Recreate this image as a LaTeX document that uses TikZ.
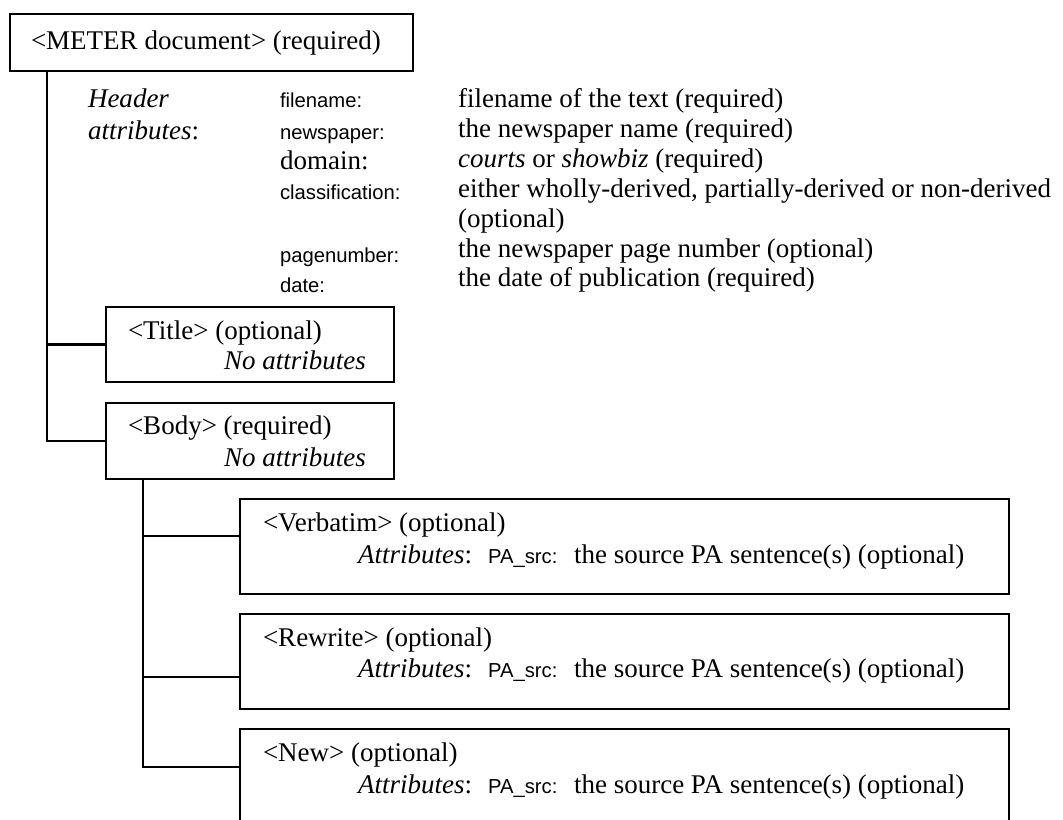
\documentclass[tikz,border=0pt]{standalone}
\usepackage{fontspec}
\setmainfont{Liberation Serif}
\newfontfamily\arialfont{Liberation Sans}
\usetikzlibrary{fit,calc}
\begin{document}
\begin{tikzpicture}[x=0.4444pt,y=-0.4444pt,line width=0.9pt,
  box/.style={draw, inner sep=0pt},
  txt/.style={anchor=base west, inner sep=0pt, font=\fontsize{12}{14}\selectfont},
  lab/.style={anchor=base west, inner sep=0pt, font=\arialfont\fontsize{9}{11}\selectfont}]
\useasboundingbox (0,0) rectangle (1063,820);
\clip (0,0) rectangle (1063,820);
% boxes
\node[box, fit={(10,14) (413,71)}] (meter) {};
\node[box, fit={(106,307) (394,382)}] (title) {};
\node[box, fit={(106,403) (394,479)}] (body) {};
\node[box, fit={(240,499) (1009,594)}] (verb) {};
\node[box, fit={(240,614) (1009,709)}] (rewr) {};
\node[box, fit={(240,729) (1009,840)}] (new) {};
% texts
\node[txt] (metert) at (30,50) {<METER document> (required)};
\node[txt] (hdr1) at (87,108) {\itshape Header};
\node[txt] (hdr2) at (87,140) {\textit{attributes}:};
\node[lab] (l1) at (279,108) {filename:};
\node[lab] (l2) at (279,140) {newspaper:};
\node[txt] (l3) at (279,170) {domain:};
\node[lab] (l4) at (279,200) {classification:};
\node[lab] (l5) at (279,263) {pagenumber:};
\node[lab] (l6) at (279,293) {date:};
\node[txt] (v1) at (457,108) {filename of the text (required)};
\node[txt] (v2) at (457,138) {the newspaper name (required)};
\node[txt] (v3) at (457,168) {\textit{courts} or \textit{showbiz} (required)};
\node[txt] (v4) at (457,198) {either wholly-derived, partially-derived or non-derived};
\node[txt] (v4b) at (457,228) {(optional)};
\node[txt] (v5) at (457,258) {the newspaper page number (optional)};
\node[txt] (v6) at (457,287) {the date of publication (required)};
\node[txt] (titlet) at (127,340) {<Title> (optional)};
\node[txt] (titlea) at (223,370) {\textit{No attributes}};
\node[txt] (bodyt) at (127,435) {<Body> (required)};
\node[txt] (bodya) at (223,467) {\textit{No attributes}};
\node[txt] (verbt) at (262,532) {<Verbatim> (optional)};
\node[txt] (verba) at (357,564) {\textit{Attributes}:};
\node[lab] (verbl) at (487,564) {PA\_src:};
\node[txt] (verbv) at (573,564) {the source PA sentence(s) (optional)};
\node[txt] (rewrt) at (262,647) {<Rewrite> (optional)};
\node[txt] (rewra) at (357,678) {\textit{Attributes}:};
\node[lab] (rewrl) at (487,678) {PA\_src:};
\node[txt] (rewrv) at (573,678) {the source PA sentence(s) (optional)};
\node[txt] (newt) at (262,762) {<New> (optional)};
\node[txt] (newa) at (357,793) {\textit{Attributes}:};
\node[lab] (newl) at (487,793) {PA\_src:};
\node[txt] (newv) at (573,793) {the source PA sentence(s) (optional)};
% connectors
\coordinate (trunk) at ($(meter.south west)+(38,0)$);
\draw (trunk) |- (title.west);
\draw (trunk) |- (body.west);
\coordinate (btrunk) at ($(body.south west)+(38,0)$);
\draw (btrunk) |- ($(verb.north west)+(0,38)$);
\draw (btrunk) |- ($(rewr.north west)+(0,64)$);
\draw (btrunk) |- ($(new.north west)+(0,39)$);
\end{tikzpicture}
\end{document}
